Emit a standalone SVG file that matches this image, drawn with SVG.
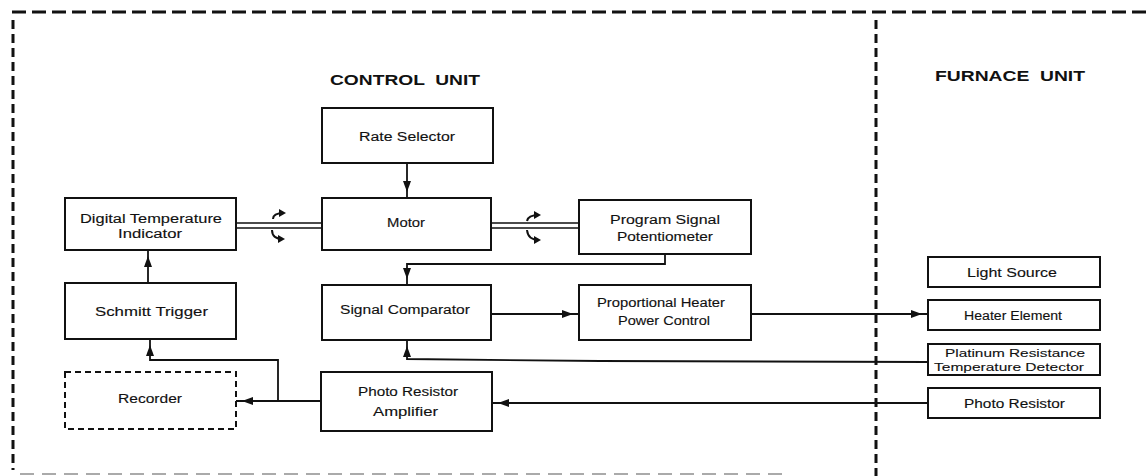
<svg xmlns="http://www.w3.org/2000/svg" width="1146" height="476" viewBox="0 0 1146 476">
<style>
.bx{fill:#fff;stroke:#111;stroke-width:2}
.dbx{fill:#fff;stroke:#111;stroke-width:2;stroke-dasharray:6 4}
.t{font-family:"Liberation Sans",Arial,sans-serif;font-size:12px;fill:#111;stroke:#111;stroke-width:0.12}
.ts{font-family:"Liberation Sans",Arial,sans-serif;font-size:11px;fill:#111;stroke:#111;stroke-width:0.1}
.ttl{font-family:"Liberation Sans",Arial,sans-serif;font-size:14px;font-weight:bold;fill:#111}
.c{fill:none;stroke:#111;stroke-width:1.8}
.sh{fill:none;stroke:#111;stroke-width:1.4}
.rot{fill:none;stroke:#111;stroke-width:2}
.frame{fill:none;stroke:#111;stroke-width:3;stroke-dasharray:14 6}
.vframe{fill:none;stroke:#111;stroke-width:3;stroke-dasharray:9 5}
</style>
<defs>
<marker id="ah" markerUnits="userSpaceOnUse" markerWidth="22" markerHeight="10" viewBox="0 0 22 10" refX="17" refY="5" orient="auto">
<path d="M0,1 L11,5 L0,9 Z" fill="#111"/>
</marker>
<marker id="ra" markerUnits="userSpaceOnUse" markerWidth="8" markerHeight="8" viewBox="0 0 8 8" refX="5" refY="4" orient="auto">
<path d="M0,0 L7,4 L0,8 Z" fill="#111"/>
</marker>
</defs>
<rect width="1146" height="476" fill="#fff"/>
<g id="frame">
<path class="frame" d="M12,12 H1146"/>
<path class="vframe" d="M13,20 V470"/>
<path class="vframe" d="M876,20 V476"/>
<path d="M20,474 H790" fill="none" stroke="#aaa" stroke-width="2" stroke-dasharray="14 8"/>
<text class="ttl" x="330" y="85" textLength="150" lengthAdjust="spacingAndGlyphs" xml:space="preserve">CONTROL  UNIT</text>
<text class="ttl" x="935" y="81" textLength="150" lengthAdjust="spacingAndGlyphs" xml:space="preserve">FURNACE  UNIT</text>
</g>
<g id="connectors">
<path class="c" d="M407,163 V198" marker-end="url(#ah)"/>
<path class="sh" d="M236,223 H322 M236,228 H322"/>
<path class="sh" d="M491,223 H579 M491,228 H579"/>
<path class="rot" d="M273,219 Q273,213 284,213" marker-end="url(#ra)"/>
<path class="rot" d="M272,230 Q272,239 283,239" marker-end="url(#ra)"/>
<path class="rot" d="M527,221 Q528,215 539,215" marker-end="url(#ra)"/>
<path class="rot" d="M527,230 Q528,240 539,240" marker-end="url(#ra)"/>
<path class="c" d="M665,254 V264 H407 V285" marker-end="url(#ah)"/>
<path class="c" d="M491,314 H579" marker-end="url(#ah)"/>
<path class="c" d="M751,314 H928" marker-end="url(#ah)"/>
<path class="c" d="M928,362 L600,361 L407,359 V340" marker-end="url(#ah)"/>
<path class="c" d="M928,403 H492" marker-end="url(#ah)"/>
<path class="c" d="M321,401 H236" marker-end="url(#ah)"/>
<path class="c" d="M278,401 V360 H150 V339" marker-end="url(#ah)"/>
<path class="c" d="M148,283 V250" marker-end="url(#ah)"/>
</g>
<g id="rate-selector">
<rect class="bx" x="322" y="108" width="171" height="55"/>
<text class="t" x="359" y="141" textLength="96" lengthAdjust="spacingAndGlyphs">Rate Selector</text>
</g>
<g id="motor">
<rect class="bx" x="322" y="198" width="169" height="52"/>
<text class="t" x="387" y="227" textLength="38" lengthAdjust="spacingAndGlyphs">Motor</text>
</g>
<g id="digital-temperature-indicator">
<rect class="bx" x="65" y="198" width="171" height="52"/>
<text class="t" x="80" y="223" textLength="142" lengthAdjust="spacingAndGlyphs">Digital Temperature</text>
<text class="t" x="118" y="238" textLength="64" lengthAdjust="spacingAndGlyphs">Indicator</text>
</g>
<g id="program-signal-potentiometer">
<rect class="bx" x="579" y="200" width="172" height="54"/>
<text class="t" x="610" y="224" textLength="110" lengthAdjust="spacingAndGlyphs">Program Signal</text>
<text class="t" x="617" y="241" textLength="96" lengthAdjust="spacingAndGlyphs">Potentiometer</text>
</g>
<g id="schmitt-trigger">
<rect class="bx" x="65" y="283" width="171" height="56"/>
<text class="t" x="95" y="316" textLength="113" lengthAdjust="spacingAndGlyphs">Schmitt Trigger</text>
</g>
<g id="signal-comparator">
<rect class="bx" x="322" y="285" width="169" height="55"/>
<text class="t" x="340" y="314" textLength="130" lengthAdjust="spacingAndGlyphs">Signal Comparator</text>
</g>
<g id="proportional-heater-power-control">
<rect class="bx" x="579" y="285" width="172" height="55"/>
<text class="t" x="597" y="307" textLength="128" lengthAdjust="spacingAndGlyphs">Proportional Heater</text>
<text class="t" x="618" y="325" textLength="92" lengthAdjust="spacingAndGlyphs">Power Control</text>
</g>
<g id="recorder">
<rect class="dbx" x="65" y="372" width="171" height="57"/>
<text class="t" x="118" y="403" textLength="64" lengthAdjust="spacingAndGlyphs">Recorder</text>
</g>
<g id="photo-resistor-amplifier">
<rect class="bx" x="321" y="372" width="171" height="59"/>
<text class="t" x="358" y="396" textLength="100" lengthAdjust="spacingAndGlyphs">Photo Resistor</text>
<text class="t" x="373" y="416" textLength="65" lengthAdjust="spacingAndGlyphs">Amplifier</text>
</g>
<g id="light-source">
<rect class="bx" x="928" y="257" width="172" height="30"/>
<text class="t" x="967" y="277" textLength="90" lengthAdjust="spacingAndGlyphs">Light Source</text>
</g>
<g id="heater-element">
<rect class="bx" x="928" y="300" width="172" height="30"/>
<text class="t" x="964" y="320" textLength="98" lengthAdjust="spacingAndGlyphs">Heater Element</text>
</g>
<g id="platinum-resistance-temperature-detector">
<rect class="bx" x="928" y="344" width="172" height="31"/>
<text class="ts" x="945" y="357" textLength="140" lengthAdjust="spacingAndGlyphs">Platinum Resistance</text>
<text class="ts" x="934" y="371" textLength="150" lengthAdjust="spacingAndGlyphs">Temperature Detector</text>
</g>
<g id="photo-resistor">
<rect class="bx" x="928" y="388" width="172" height="30"/>
<text class="t" x="964" y="408" textLength="101" lengthAdjust="spacingAndGlyphs">Photo Resistor</text>
</g>
</svg>
